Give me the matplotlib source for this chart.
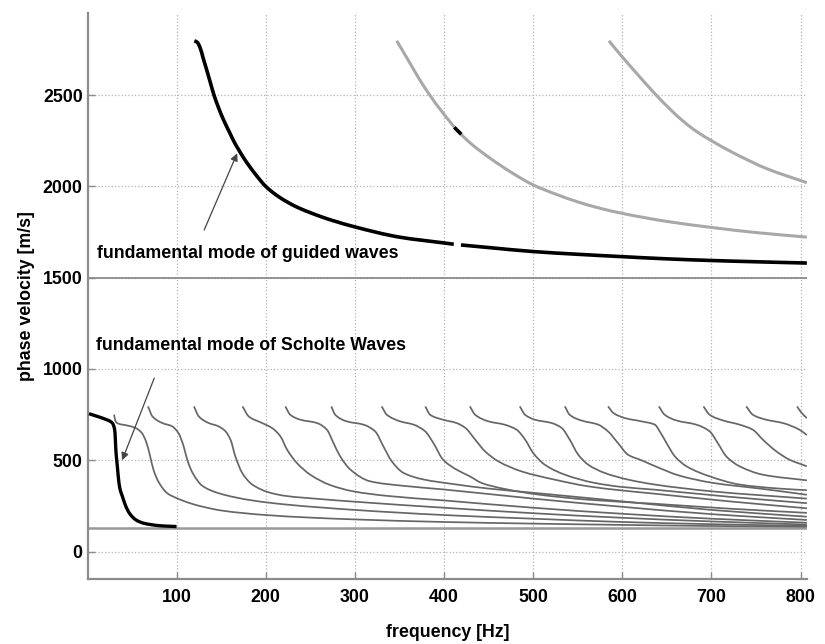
import numpy as np
import matplotlib
matplotlib.use("Agg")
import matplotlib.pyplot as plt
from matplotlib.path import Path
from matplotlib.patches import PathPatch

plt.rcParams['font.family'] = ['Liberation Sans', 'DejaVu Sans']
plt.rcParams['font.weight'] = 'bold'

# fundamental mode of guided waves (black), small gap near 415 Hz
guided_f = [120, 123, 126, 130, 134, 138, 142, 146, 150, 155, 160, 165, 170, 175, 180,
            190, 200, 212, 225, 237, 250, 262, 275, 300, 350, 400, 411, 415, 419, 450, 500,
            550, 600, 650, 700, 750, 807]
guided_v = [2797, 2790, 2765, 2700, 2635, 2567, 2500, 2445, 2395, 2340, 2290, 2240, 2198,
            2158, 2122, 2057, 2000, 1952, 1912, 1882, 1856, 1834, 1813, 1778, 1722, 1690,
            1683, np.nan, 1679, 1665, 1643, 1628, 1615, 1603, 1594, 1587, 1580]

# higher guided modes (light grey)
guided2_f = [347, 360, 372, 384, 399, 415, 430, 450, 475, 500, 525, 550, 575, 600, 650, 700,
             750, 807]
guided2_v = [2797, 2690, 2590, 2500, 2401, 2306, 2235, 2160, 2078, 2008, 1958, 1915, 1880,
             1852, 1808, 1775, 1747, 1722]
guided2_black_f = [413, 418]
guided2_black_v = [2316, 2292]

guided3_f = [585, 598, 611, 624, 638, 652, 668, 684, 700, 724, 761.5, 807]
guided3_v = [2797, 2720, 2647, 2575, 2500, 2430, 2358, 2298, 2250, 2185, 2098, 2020]

# fundamental mode of Scholte waves (black)
scholte_f = [1.8, 10, 20, 28, 30, 31, 31.7, 32.5, 33.6, 35.4, 37, 39.2, 42, 44.8, 49, 54,
             59, 65, 72, 80, 90, 100]
scholte_v = [755, 742, 725, 704, 680, 649, 576, 520, 467, 376, 335, 303, 262, 230, 198, 175,
             162, 153, 147, 142, 139, 137]

# higher Scholte modes (dark grey)
m1_f = [30, 31.5, 34, 45, 54, 61, 66, 70, 74, 80, 90, 100, 115, 130, 150, 200, 250, 300,
        400, 500, 600, 700, 807]
m1_v = [750, 715, 702, 690, 677, 650, 600, 530, 450, 380, 318, 293, 265, 245, 225, 200, 186,
        176, 162, 153, 146, 140, 136]
m2_f = [68, 73, 84, 95, 102, 108, 112, 118, 129, 147, 185, 222, 300, 400, 500, 600, 700, 807]
m2_v = [795, 740, 704, 686, 650, 576, 503, 431, 360, 320, 280, 258, 228, 200, 180, 162, 150, 141]
m3_f = [119.5, 125, 136, 147, 155, 160.5, 166, 173.6, 185, 203, 222, 260, 300, 400, 500, 600,
        700, 807]
m3_v = [795, 740, 704, 686, 658, 613, 521, 431, 367, 325, 305, 288, 273, 240, 210, 185, 165, 148]
m4_f = [174, 181, 196, 207, 216.5, 224, 235, 250, 272, 298, 336, 400, 500, 600, 700, 807]
m4_v = [795, 740, 704, 677, 631, 558, 485, 421, 365, 330, 305, 280, 240, 207, 180, 158]
m5_f = [222, 227.6, 239, 257.5, 268.7, 276, 283.6, 295, 317, 354.5, 400, 500, 600, 700, 807]
m5_v = [795, 749, 722, 704, 667, 595, 521, 449, 385, 360, 340, 290, 245, 205, 173]
m6_f = [273.6, 278, 291, 309.7, 322.8, 332, 341.5, 354.5, 377, 410, 450, 500, 600, 700, 807]
m6_v = [795, 749, 713, 695, 658, 576, 494, 431, 395, 370, 345, 322, 275, 228, 191]
m7_f = [330, 336, 351, 366, 379, 388, 399, 414, 429, 442, 468, 506, 562, 636, 720, 807]
m7_v = [795, 749, 713, 695, 658, 595, 503, 449, 412, 376, 343, 312, 284, 262, 235, 212]
m8_f = [379, 384.5, 399, 414, 424, 435, 446, 461, 487, 524, 562, 599, 636, 720, 807]
m8_v = [795, 749, 722, 704, 677, 613, 549, 494, 439, 394, 357, 335, 317, 275, 237]
m9_f = [429, 435, 450, 468, 481.5, 491, 500, 513, 535.6, 569, 599, 636, 720, 807]
m9_v = [795, 749, 713, 695, 667, 613, 540, 476, 421, 376, 354, 339, 300, 265]
m10_f = [485, 491, 502, 520.7, 532, 541, 550.5, 561.7, 580, 606.5, 636.5, 700, 807]
m10_v = [795, 749, 722, 704, 677, 613, 531, 476, 431, 394, 367, 330, 290]
m11_f = [535.6, 541, 554, 573, 584, 595, 606.5, 621.5, 638, 664, 701.7, 757.6, 807]
m11_v = [795, 749, 718, 695, 658, 595, 530, 500, 465, 416, 376, 343, 311]
m12_f = [584, 590, 603, 621.5, 636.5, 642, 649.5, 659, 672, 698, 731.6, 776, 807]
m12_v = [795, 759, 731, 713, 695, 658, 595, 521, 467, 412, 367, 345, 336]
m13_f = [641, 647.6, 660.7, 683, 698, 707, 716.7, 731.6, 757.6, 807]
m13_v = [795, 749, 718, 695, 658, 595, 521, 467, 421, 390]
m14_f = [691, 698, 713, 731.6, 746.5, 757.6, 772.7, 787.6, 807]
m14_v = [795, 749, 718, 695, 667, 613, 549, 503, 467]
m15_f = [739, 746.5, 761.5, 780, 798.8, 807]
m15_v = [795, 749, 722, 704, 667, 638]
m16_f = [796, 801, 807]
m16_v = [795, 760, 731]

higher_modes = [(m1_f, m1_v), (m2_f, m2_v), (m3_f, m3_v), (m4_f, m4_v), (m5_f, m5_v),
                (m6_f, m6_v), (m7_f, m7_v), (m8_f, m8_v), (m9_f, m9_v), (m10_f, m10_v),
                (m11_f, m11_v), (m12_f, m12_v), (m13_f, m13_v), (m14_f, m14_v),
                (m15_f, m15_v), (m16_f, m16_v)]

water_velocity = 1500
scholte_limit = 131


def smooth_curve(ax, x, y, **kw):
    """Draw a monotone cubic (Bezier) path through the given points; NaN splits it."""
    x = np.asarray(x, float)
    y = np.asarray(y, float)
    breaks = np.where(np.isnan(y))[0]
    starts = np.r_[0, breaks + 1]
    stops = np.r_[breaks, len(x)]
    for a, b in zip(starts, stops):
        xs, ys = x[a:b], y[a:b]
        if len(xs) < 2:
            continue
        h = np.diff(xs)
        d = np.diff(ys) / h
        m = np.empty_like(xs)
        m[0], m[-1] = d[0], d[-1]
        for i in range(1, len(xs) - 1):
            if d[i - 1] * d[i] > 0:
                w1 = 2 * h[i] + h[i - 1]
                w2 = h[i] + 2 * h[i - 1]
                m[i] = (w1 + w2) / (w1 / d[i - 1] + w2 / d[i])
            else:
                m[i] = 0.0
        verts = [(xs[0], ys[0])]
        codes = [Path.MOVETO]
        for i in range(len(h)):
            verts += [(xs[i] + h[i] / 3, ys[i] + m[i] * h[i] / 3),
                      (xs[i + 1] - h[i] / 3, ys[i + 1] - m[i + 1] * h[i] / 3),
                      (xs[i + 1], ys[i + 1])]
            codes += [Path.CURVE4] * 3
        ax.add_patch(PathPatch(Path(verts, codes), fill=False, **kw))


fig = plt.figure(figsize=(8.25, 6.44), dpi=100)
ax = fig.add_axes([0.107, 0.101, 0.871, 0.879])

grey = '#8c8c8c'
ax.grid(True, linestyle=':', color='#b4b4b4', linewidth=0.9)
ax.set_axisbelow(True)

ax.axhline(water_velocity, color=grey, linewidth=1.3, zorder=2)
ax.plot([0, 807], [scholte_limit, scholte_limit], color='#999999', linewidth=1.8, zorder=2)

for f, v in higher_modes:
    smooth_curve(ax, f, v, edgecolor='#666666', linewidth=1.25, zorder=3)

smooth_curve(ax, guided2_f, guided2_v, edgecolor='#a8a8a8', linewidth=2.2, zorder=3)
smooth_curve(ax, guided3_f, guided3_v, edgecolor='#a8a8a8', linewidth=2.2, zorder=3)
ax.plot(guided2_black_f, guided2_black_v, color='black', linewidth=2.6, zorder=4)

smooth_curve(ax, guided_f, guided_v, edgecolor='black', linewidth=2.6, zorder=5)
smooth_curve(ax, scholte_f, scholte_v, edgecolor='black', linewidth=2.4, zorder=5)

arrow = dict(arrowstyle='-|>', color='#444444', linewidth=0.9, mutation_scale=11,
             shrinkA=0, shrinkB=0)
ax.annotate('', xy=(168, 2181), xytext=(131, 1761), arrowprops=arrow)
ax.text(11, 1630, 'fundamental mode of guided waves', fontsize=12.8, fontweight='bold',
        ha='left', va='center', zorder=6)
ax.annotate('', xy=(39, 500), xytext=(75, 950), arrowprops=arrow)
ax.text(10, 1127, 'fundamental mode of Scholte Waves', fontsize=12.8, fontweight='bold',
        ha='left', va='center', zorder=6)

ax.set_xlim(1, 807)
ax.set_ylim(-150, 2950)
ax.set_xticks(range(100, 801, 100))
ax.set_yticks(range(0, 2501, 500))

for side in ['top', 'right']:
    ax.spines[side].set_visible(False)
for side in ['left', 'bottom']:
    ax.spines[side].set_color(grey)
    ax.spines[side].set_linewidth(1.6)

ax.tick_params(direction='in', length=5, width=1, color=grey, labelsize=12.8)
ax.tick_params(axis='x', pad=7)
ax.tick_params(axis='y', pad=4)
for lab in ax.get_xticklabels() + ax.get_yticklabels():
    lab.set_fontweight('bold')

ax.set_xlabel('frequency [Hz]', fontsize=12.8, fontweight='bold', labelpad=13)
ax.set_ylabel('phase velocity [m/s]', fontsize=12.8, fontweight='bold', labelpad=6)

fig.savefig('out.png', dpi=100)
